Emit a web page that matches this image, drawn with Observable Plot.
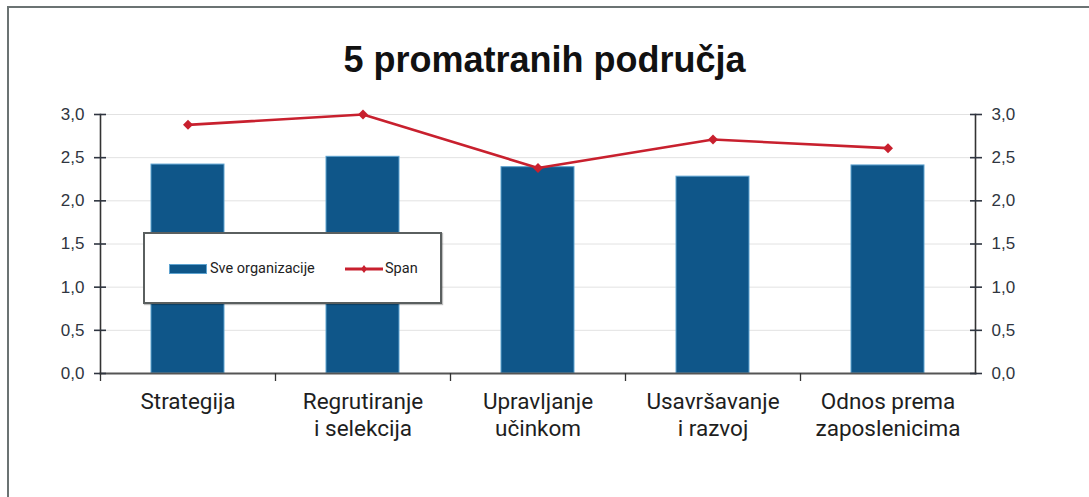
<!DOCTYPE html>
<html>
<head>
<meta charset="utf-8">
<script src="https://cdn.jsdelivr.net/npm/d3@7"></script>
<script src="https://cdn.jsdelivr.net/npm/@observablehq/plot@0.6"></script>
<style>
  html, body { margin: 0; padding: 0; background: #fff; }
  #wrap { position: relative; width: 1089px; height: 497px; background: #fff; overflow: hidden; }
  #frame { position: absolute; left: 7px; top: 6px; right: -10px; bottom: -10px;
           border-left: 2px solid #6b7373; border-top: 2px solid #6b7373; }
  #title { position: absolute; left: 0; width: 1089px; top: 39px; line-height: 36px; text-align: center;
           font: bold 36px "Liberation Sans", Arial, sans-serif; color: #111; }
  #chart { position: absolute; left: 0; top: 0; }
  #legend { position: absolute; left: 143px; top: 232px; width: 295px; height: 68px;
            border: 2px solid #5a5f5f; background: #fff; box-shadow: 1px 1px 1px rgba(0,0,0,0.25);
            font: 14.5px Roboto, sans-serif; color: #222; }
  .item { position: absolute; top: 26px; height: 18px; line-height: 18px; white-space: nowrap; }
  .sw { display: inline-block; vertical-align: middle; }
</style>
</head>
<body>
<div id="wrap">
  <div id="frame"></div>
  <div id="chart"></div>
  <div id="title">5 promatranih područja</div>
  <div id="legend"></div>
</div>
<script>
// ---- data ----
const categories = ["Strategija", "Regrutiranje\ni selekcija", "Upravljanje\nučinkom", "Usavršavanje\ni razvoj", "Odnos prema\nzaposlenicima"];
const sveOrganizacije = [2.42, 2.51, 2.39, 2.28, 2.41];
const span = [2.88, 3.0, 2.38, 2.71, 2.61];
const yTicks = [0, 0.5, 1.0, 1.5, 2.0, 2.5, 3.0];
const seriesNames = ["Sve organizacije", "Span"];

const barColor = "#0f5689";
const barEdge = "#5ea3d0";
const lineColor = "#c8202e";

const data = categories.map((c, i) => ({cat: c, sve: sveOrganizacije[i], span: span[i]}));
const fmt = d => d.toFixed(1).replace(".", ",");

const chart = Plot.plot({
  width: 1089,
  height: 497,
  marginTop: 114,
  marginBottom: 124,
  marginLeft: 100,
  marginRight: 114,
  style: {background: "transparent", fontFamily: "Roboto, sans-serif", overflow: "visible"},
  x: {domain: categories, padding: 0, axis: null},
  y: {domain: [0, 3], axis: null},
  marks: [
    Plot.ruleY(yTicks.slice(1), {stroke: "#e2e2e2", strokeWidth: 1}),
    Plot.barY(data, {x: "cat", y: "sve", fill: barColor, stroke: barEdge, strokeWidth: 1, insetLeft: 51, insetRight: 51}),
    Plot.frame({anchor: "bottom", stroke: "#555", strokeWidth: 2}),
    Plot.frame({anchor: "left", stroke: "#333", strokeWidth: 1.6}),
    Plot.frame({anchor: "right", stroke: "#333", strokeWidth: 1.6}),
    Plot.axisY(yTicks, {anchor: "left", tickSize: 12, dx: 6, tickPadding: 10, tickFormat: fmt, label: null,
      fontSize: 17, fontFamily: "'Liberation Sans', Arial, sans-serif", color: "#2f3540", strokeWidth: 1.6}),
    Plot.axisY(yTicks, {anchor: "right", tickSize: 12, dx: -6, tickPadding: 10, tickFormat: fmt, label: null,
      fontSize: 17, fontFamily: "'Liberation Sans', Arial, sans-serif", color: "#2f3540", strokeWidth: 1.6}),
    Plot.axisX({anchor: "bottom", tickSize: 8, dx: -87.5, tickFormat: () => "", label: null, stroke: "#333", strokeWidth: 1.3}),
    Plot.axisX({anchor: "bottom", tickSize: 0, tickPadding: 17, label: null, fontSize: 22.5, lineHeight: 1.18,
      fontFamily: "Roboto, sans-serif", fill: "#1e1e1e"}),
    Plot.line(data, {x: "cat", y: "span", stroke: lineColor, strokeWidth: 2.6}),
    Plot.dot(data, {x: "cat", y: "span", symbol: "diamond2", r: 4.5, fill: lineColor, stroke: "none"})
  ]
});
document.getElementById("chart").appendChild(chart);

// legend
const legend = document.getElementById("legend");
legend.innerHTML = `
  <div class="item" style="left:24px">
    <span class="sw" style="width:36px;height:8px;background:${barColor};border:1px solid ${barEdge};margin-right:3px"></span>${seriesNames[0]}
  </div>
  <div class="item" style="left:200px">
    <svg class="sw" width="38" height="10" style="margin-right:2px"><line x1="0" y1="5" x2="38" y2="5" stroke="${lineColor}" stroke-width="3"/><path d="M19,1 L22,5 L19,9 L16,5 Z" fill="${lineColor}"/></svg>${seriesNames[1]}
  </div>`;
</script>
</body>
</html>
